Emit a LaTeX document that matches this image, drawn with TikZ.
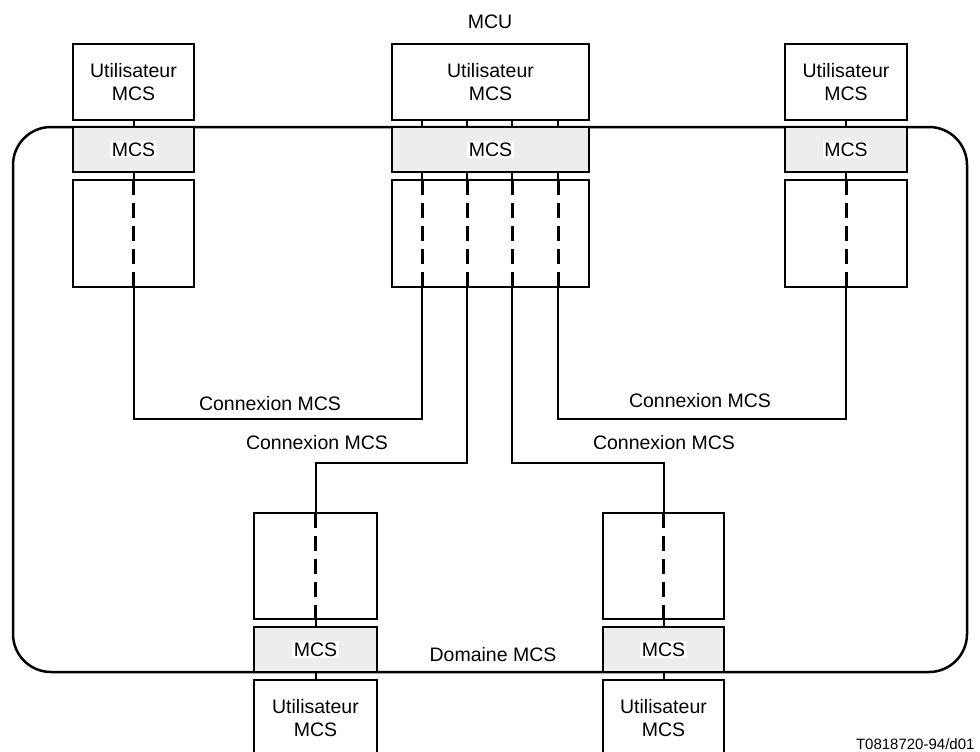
\documentclass[tikz,border=0pt]{standalone}
\usepackage{fontspec}
\setmainfont{Liberation Sans}
\definecolor{mcsgrey}{gray}{0.93}
\begin{document}
\begin{tikzpicture}[x=1pt,y=-1pt,
  font=\fontsize{19.5}{22.5}\selectfont,
  box/.style={draw,line width=2pt,inner sep=0pt,outer sep=0pt,align=center},
  userbox/.style={box,fill=white,minimum height=76pt},
  mcsbox/.style={box,fill=mcsgrey,minimum height=45pt},
  stackbox/.style={box,fill=white,minimum height=107pt},
  mcslabel/.style={fill=white,inner sep=1.5pt},
  conn/.style={line width=2pt},
  dashline/.style={line width=3pt,dash pattern=on 15pt off 8pt},
  domainbox/.style={draw,line width=2.5pt,rounded corners=38pt,inner sep=0pt,outer sep=0pt,
    minimum width=954pt,minimum height=545pt}]
\useasboundingbox (0,0) rectangle (980,752);
\clip (0,0) rectangle (980,752);

% MCS domain
\node[domainbox] (dom) at (490,399.5) {};
\node (domlabel) at (493,655) {Domaine MCS};

% x positions of the four MCU channels
\coordinate (c1) at (422,0);
\coordinate (c2) at (467,0);
\coordinate (c3) at (512,0);
\coordinate (c4) at (558,0);
% heights of the two connection runs
\coordinate (y1) at (0,419);
\coordinate (y2) at (0,463);

% upper left station
\node[userbox,minimum width=121pt] (U1) at (133.5,82) {Utilisateur\\MCS};
\node[mcsbox,minimum width=121pt] (M1) at (133.5,149.5) {};
\node[mcslabel] (M1t) at (M1) {MCS};
\node[stackbox,minimum width=121pt] (L1) at (133.5,233.5) {};

% MCU
\node (mcu) at (490,22) {MCU};
\node[userbox,minimum width=197pt] (U2) at (490.5,82) {Utilisateur\\MCS};
\node[mcsbox,minimum width=197pt] (M2) at (490.5,149.5) {};
\node[mcslabel] (M2t) at (M2) {MCS};
\node[stackbox,minimum width=197pt] (L2) at (490.5,233.5) {};

% upper right station
\node[userbox,minimum width=122pt] (U3) at (846,82) {Utilisateur\\MCS};
\node[mcsbox,minimum width=122pt] (M3) at (846,149.5) {};
\node[mcslabel] (M3t) at (M3) {MCS};
\node[stackbox,minimum width=122pt] (L3) at (846,233.5) {};

% lower left station
\node[stackbox,minimum width=123pt,minimum height=106pt] (B1) at (315.5,566) {};
\node[mcsbox,minimum width=123pt] (N1) at (315.5,649.5) {};
\node[mcslabel] (N1t) at (N1) {MCS};
\node[box,fill=white,minimum width=123pt,minimum height=110pt,anchor=north] (V1) at (315.5,680) {};
\node (V1t) at (315.5,718) [align=center] {Utilisateur\\MCS};

% lower right station
\node[stackbox,minimum width=121pt,minimum height=106pt] (B2) at (663.5,566) {};
\node[mcsbox,minimum width=121pt] (N2) at (663.5,649.5) {};
\node[mcslabel] (N2t) at (N2) {MCS};
\node[box,fill=white,minimum width=121pt,minimum height=110pt,anchor=north] (V2) at (663.5,680) {};
\node (V2t) at (663.5,718) [align=center] {Utilisateur\\MCS};

% links between the layers of each station
\foreach \u/\m/\l in {U1/M1/L1,U3/M3/L3}{
  \draw[conn] (\u.south) -- (\m.north);
  \draw[conn] (\m.south) -- (\l.north);
  \draw[dashline] (\l.north) -- (\l.south);
}
\foreach \c in {c1,c2,c3,c4}{
  \draw[conn] (U2.south -| \c) -- (M2.north -| \c);
  \draw[conn] (M2.south -| \c) -- (L2.north -| \c);
  \draw[dashline] (L2.north -| \c) -- (L2.south -| \c);
}
\foreach \b/\n/\v in {B1/N1/V1,B2/N2/V2}{
  \draw[dashline] (\b.north) -- (\b.south);
  \draw[conn] (\b.south) -- (\n.north);
  \draw[conn] (\n.south) -- (\v.north);
}

% MCS connections
\draw[conn] (L1.south) -- (L1.south |- y1) -| (L2.south -| c1);
\draw[conn] (L3.south) -- (L3.south |- y1) -| (L2.south -| c4);
\draw[conn] (L2.south -| c2) |- (B1.north |- y2) -- (B1.north);
\draw[conn] (L2.south -| c3) |- (B2.north |- y2) -- (B2.north);
\node (cx1) at (270,404) {Connexion MCS};
\node (cx2) at (317,443) {Connexion MCS};
\node (cx3) at (700,401) {Connexion MCS};
\node (cx4) at (664,443) {Connexion MCS};

\node[anchor=base east,font=\fontsize{15}{18}\selectfont] (ref) at (978,749) {T0818720-94/d01};
\end{tikzpicture}
\end{document}
